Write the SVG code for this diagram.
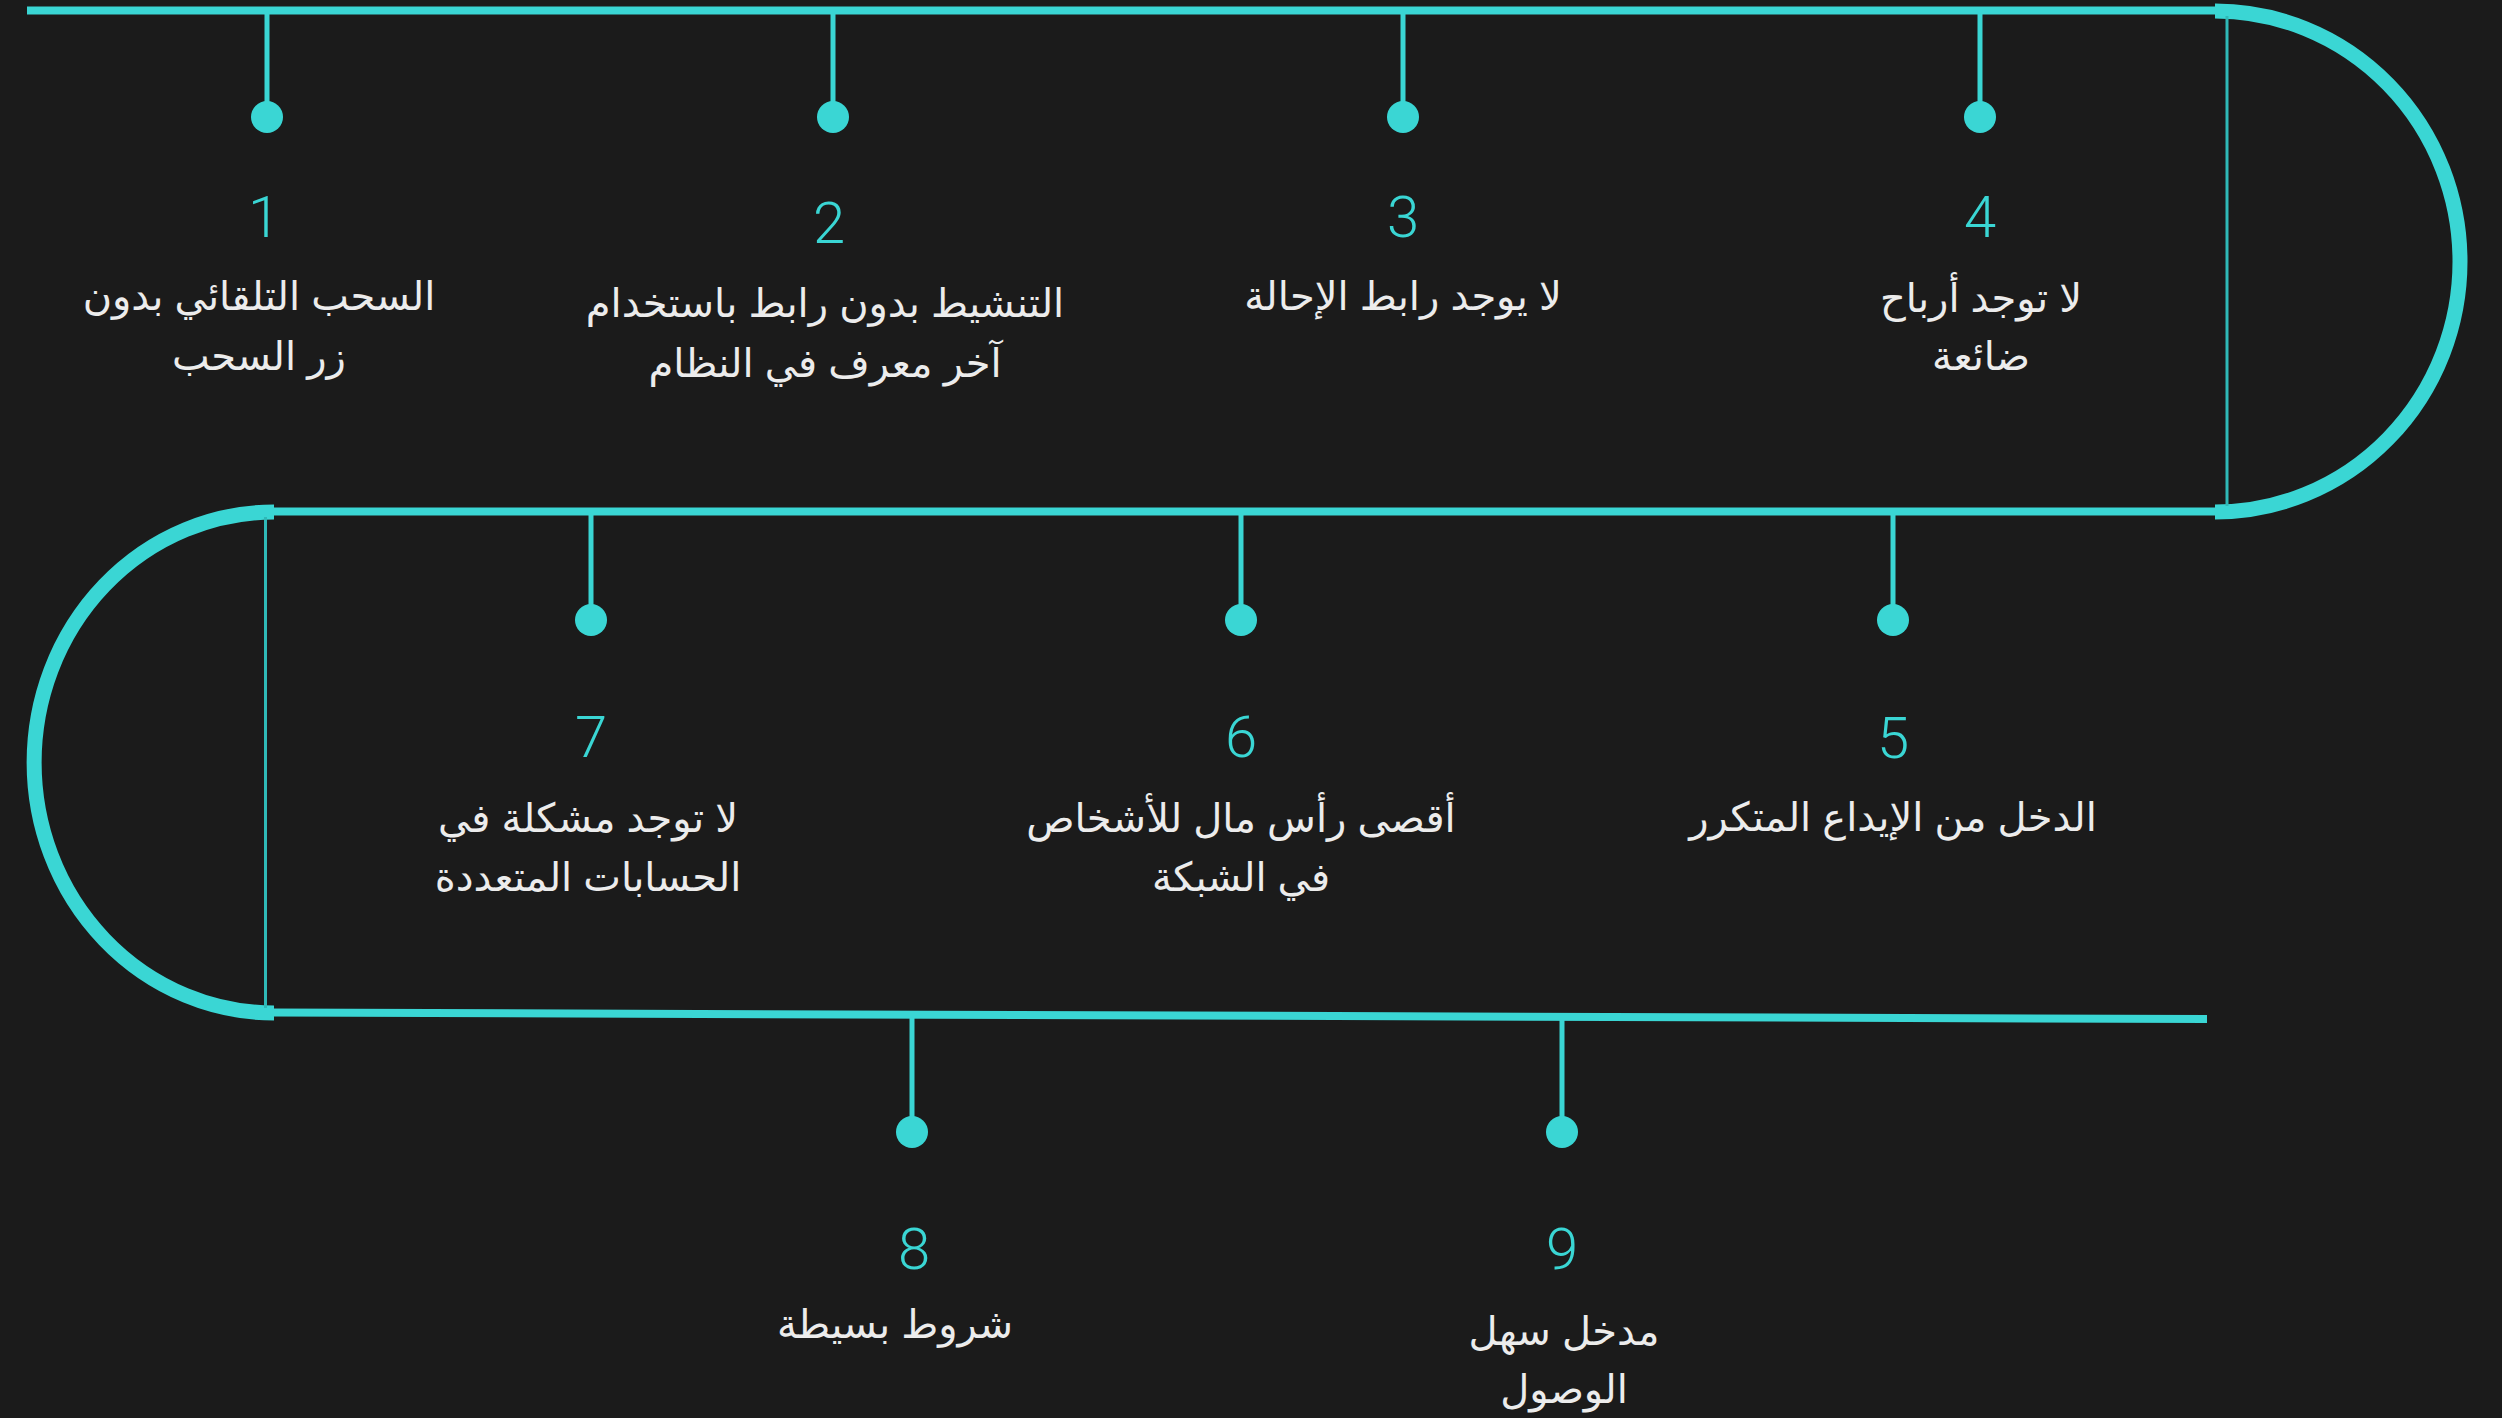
<svg xmlns="http://www.w3.org/2000/svg" width="2502" height="1418" viewBox="0 0 2502 1418">
<style>
.bg{fill:#1b1b1b}
.ln{stroke:#3ad6d4;stroke-width:8;fill:none}
.arc{stroke:#3ad6d4;stroke-width:15;fill:none}
.thin{stroke:#2fb9b7;stroke-width:3;fill:none}
.stem{stroke:#3ad6d4;stroke-width:5}
.dot{fill:#3ad6d4}
.num{font-family:Roboto,"Liberation Sans",sans-serif;font-weight:300;font-size:58px;fill:#3ad6d4;text-anchor:middle}
.lbl{font-family:"Liberation Sans","DejaVu Sans",sans-serif;font-size:40px;fill:#ececec;text-anchor:middle}
</style>
<rect class="bg" x="0" y="0" width="2502" height="1418"/>
<g id="connectors">
<line class="ln" x1="27" y1="10.5" x2="2218" y2="10.5"/>
<path class="arc" d="M2215,11 A245,250.5 0 0 1 2215,512"/>
<line class="thin" x1="2227" y1="16" x2="2227" y2="506"/>
<line class="ln" x1="272" y1="511.5" x2="2218" y2="511.5"/>
<path class="arc" d="M274,512 A240,250.5 0 0 0 274,1013"/>
<line class="thin" x1="265.5" y1="517" x2="265.5" y2="1008"/>
<line class="ln" x1="272" y1="1012.5" x2="2207" y2="1019"/>
</g>
<g id="n1"><line class="stem" x1="267" y1="12" x2="267" y2="110"/><circle class="dot" cx="267" cy="117" r="16"/><text class="num" x="264" y="237">1</text><text class="lbl" x="259" y="310">السحب التلقائي بدون</text><text class="lbl" x="259" y="370">زر السحب</text></g>
<g id="n2"><line class="stem" x1="833" y1="12" x2="833" y2="110"/><circle class="dot" cx="833" cy="117" r="16"/><text class="num" x="829" y="243">2</text><text class="lbl" x="825" y="317">التنشيط بدون رابط باستخدام</text><text class="lbl" x="825" y="377">آخر معرف في النظام</text></g>
<g id="n3"><line class="stem" x1="1403" y1="12" x2="1403" y2="110"/><circle class="dot" cx="1403" cy="117" r="16"/><text class="num" x="1403" y="237">3</text><text class="lbl" x="1403" y="310">لا يوجد رابط الإحالة</text></g>
<g id="n4"><line class="stem" x1="1980" y1="12" x2="1980" y2="110"/><circle class="dot" cx="1980" cy="117" r="16"/><text class="num" x="1980" y="237">4</text><text class="lbl" x="1981" y="312">لا توجد أرباح</text><text class="lbl" x="1981" y="370">ضائعة</text></g>
<g id="n5"><line class="stem" x1="1893" y1="513" x2="1893" y2="612"/><circle class="dot" cx="1893" cy="620" r="16"/><text class="num" x="1893" y="758">5</text><text class="lbl" x="1893" y="831">الدخل من الإيداع المتكرر</text></g>
<g id="n6"><line class="stem" x1="1241" y1="513" x2="1241" y2="612"/><circle class="dot" cx="1241" cy="620" r="16"/><text class="num" x="1241" y="757">6</text><text class="lbl" x="1241" y="832">أقصى رأس مال للأشخاص</text><text class="lbl" x="1241" y="891">في الشبكة</text></g>
<g id="n7"><line class="stem" x1="591" y1="513" x2="591" y2="612"/><circle class="dot" cx="591" cy="620" r="16"/><text class="num" x="591" y="757">7</text><text class="lbl" x="588" y="832">لا توجد مشكلة في</text><text class="lbl" x="588" y="891">الحسابات المتعددة</text></g>
<g id="n8"><line class="stem" x1="912" y1="1016" x2="912" y2="1124"/><circle class="dot" cx="912" cy="1132" r="16"/><text class="num" x="914" y="1269">8</text><text class="lbl" x="895" y="1338">شروط بسيطة</text></g>
<g id="n9"><line class="stem" x1="1562" y1="1018" x2="1562" y2="1124"/><circle class="dot" cx="1562" cy="1132" r="16"/><text class="num" x="1562" y="1269">9</text><text class="lbl" x="1564" y="1345">مدخل سهل</text><text class="lbl" x="1564" y="1403">الوصول</text></g>
</svg>
